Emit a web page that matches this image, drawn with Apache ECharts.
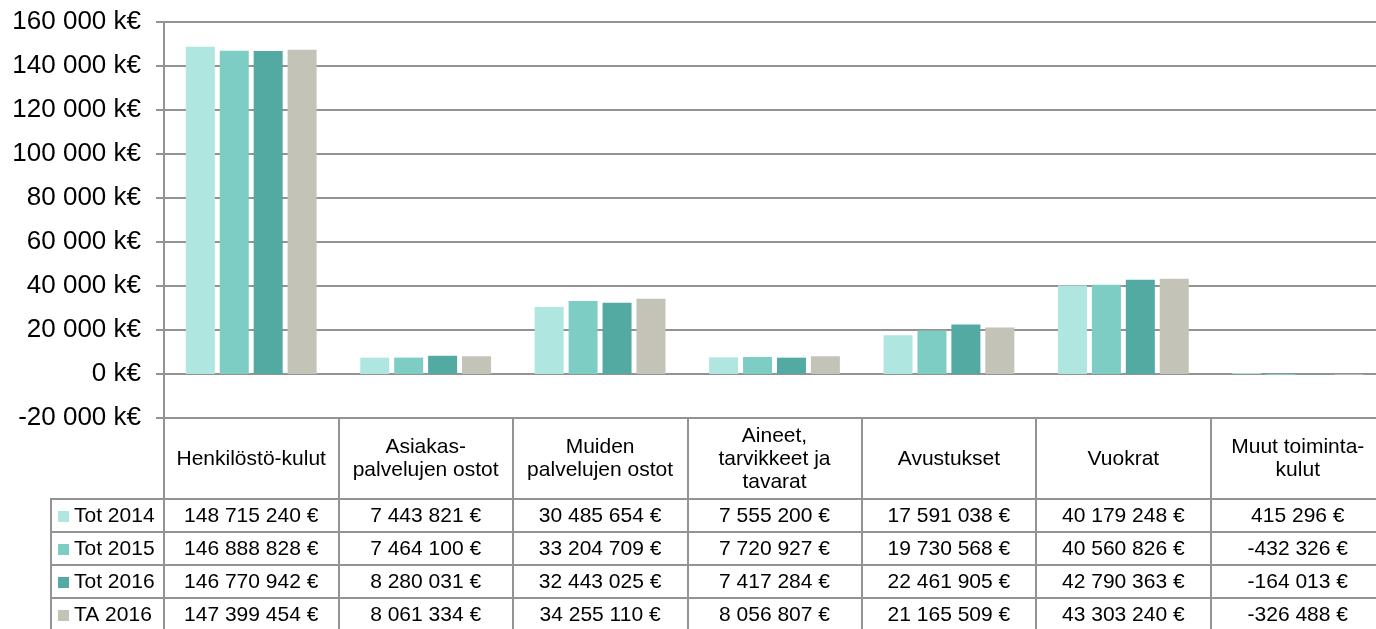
<!DOCTYPE html>
<html><head><meta charset="utf-8">
<script src="https://cdn.jsdelivr.net/npm/echarts@6/dist/echarts.min.js"></script>
<style>html,body{margin:0;padding:0;background:#fff;overflow:hidden}#c{width:1376px;height:629px}</style>
</head><body><div id="c"></div>
<script>
// ---- data ----
const categories = ['Henkilöstö-kulut', 'Asiakas-\npalvelujen ostot', 'Muiden\npalvelujen ostot', 'Aineet,\ntarvikkeet ja\ntavarat', 'Avustukset', 'Vuokrat', 'Muut toiminta-\nkulut'];
const seriesNames = ['Tot 2014', 'Tot 2015', 'Tot 2016', 'TA 2016'];
const tot2014 = [148715240, 7443821, 30485654, 7555200, 17591038, 40179248, 415296];
const tot2015 = [146888828, 7464100, 33204709, 7720927, 19730568, 40560826, -432326];
const tot2016 = [146770942, 8280031, 32443025, 7417284, 22461905, 42790363, -164013];
const ta2016  = [147399454, 8061334, 34255110, 8056807, 21165509, 43303240, -326488];
const yMin = -20000, yMax = 160000, yStep = 20000; // k€

// ---- style / layout ----
const colors = ['#B0E6E0', '#7ECDC5', '#52AAA3', '#C3C3B7'];
const FONT = '"Liberation Sans", Arial, sans-serif';
const lineColor = '#939393';
const gridLeft = 164, gridTop = 22, gridWidth = 1221, gridHeight = 396;
const gridBottom = gridTop + gridHeight;
const headerH = 81, rowH = 33, tableLeft = 51;
const rowsTop = gridBottom + headerH;

const allSeries = [tot2014, tot2015, tot2016, ta2016];

function groupThousands(n) {
  const s = Math.abs(Math.round(n)).toString().replace(/\B(?=(\d{3})+(?!\d))/g, ' ');
  return (n < 0 ? '-' : '') + s;
}
function euro(n) { return groupThousands(n) + ' €'; }

const xAxes = [{
  type: 'category', data: categories, gridIndex: 0, position: 'bottom',
  axisLine: { show: true, onZero: false, lineStyle: { color: lineColor, width: 2 } },
  axisTick: { show: true, interval: 0, length: 215, lineStyle: { color: lineColor, width: 2 } },
  axisLabel: { interval: 0, color: '#000', fontFamily: FONT, fontSize: 21, lineHeight: 23,
               verticalAlign: 'middle', margin: headerH / 2 + 0.5, align: 'center' },
  splitLine: { show: false }
}];
allSeries.forEach((arr, i) => {
  xAxes.push({
    type: 'category', data: arr.map(euro), gridIndex: 0, position: 'bottom',
    offset: headerH + rowH * i + rowH / 2 + 1,
    axisLine: { show: false, onZero: false }, axisTick: { show: false }, splitLine: { show: false },
    axisLabel: { interval: 0, color: '#000', fontFamily: FONT, fontSize: 21, verticalAlign: 'middle', margin: 0 }
  });
});

const graphics = [];
for (let i = 0; i < 4; i++) {
  const y = rowsTop + rowH * i;
  graphics.push({ type: 'line', silent: true, shape: { x1: tableLeft, y1: y, x2: gridLeft + gridWidth, y2: y },
    style: { stroke: lineColor, lineWidth: 2 } });
}
graphics.push({ type: 'line', silent: true, shape: { x1: tableLeft, y1: rowsTop - 1, x2: tableLeft, y2: 640 },
  style: { stroke: lineColor, lineWidth: 2 } });

const legends = seriesNames.map((name, i) => ({
  orient: 'horizontal', left: 58, top: rowsTop + rowH * i + (rowH - 21) / 2 + 1,
  itemWidth: 11, itemHeight: 11, itemGap: 0, icon: 'rect', selectedMode: false, padding: 0,
  textStyle: { color: '#000', fontFamily: FONT, fontSize: 21, lineHeight: 21 },
  data: [name]
}));

const option = {
  animation: false,
  backgroundColor: '#fff',
  color: colors,
  grid: { left: gridLeft, top: gridTop, width: gridWidth, height: gridHeight, containLabel: false, outerBoundsMode: 'none' },
  legend: legends,
  xAxis: xAxes,
  yAxis: {
    type: 'value', min: yMin, max: yMax, interval: yStep,
    axisLine: { show: true, lineStyle: { color: lineColor, width: 2 } },
    axisTick: { show: true, length: 8, lineStyle: { color: lineColor, width: 2 } },
    splitLine: { show: true, lineStyle: { color: lineColor, width: 2 } },
    axisLabel: { color: '#000', fontFamily: FONT, fontSize: 26, margin: 23,
                 formatter: v => groupThousands(v) + ' k€' }
  },
  graphic: graphics,
  series: allSeries.map((arr, i) => ({
    name: seriesNames[i], type: 'bar', xAxisIndex: 0,
    data: arr.map(v => v / 1000),
    barWidth: 29, barGap: '17%',
    itemStyle: { color: colors[i] }
  }))
};

const chart = echarts.init(document.getElementById('c'), null, { renderer: 'canvas' });
chart.setOption(option);
</script>
</body></html>
